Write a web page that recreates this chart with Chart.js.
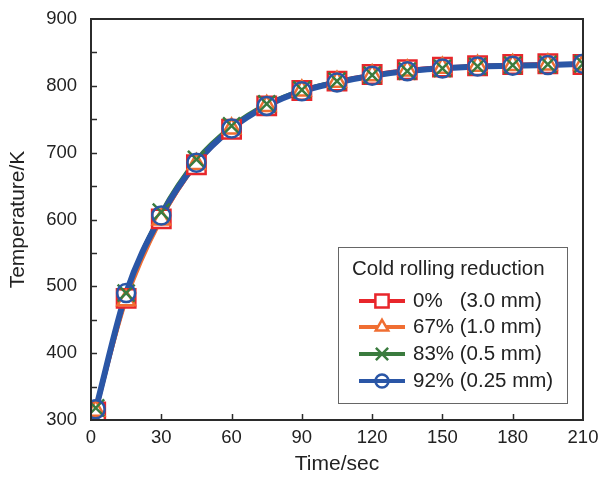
<!DOCTYPE html>
<html>
<head>
<meta charset="utf-8">
<script src="https://cdn.jsdelivr.net/npm/chart.js@4/dist/chart.umd.min.js"></script>
<style>
html, body { margin: 0; padding: 0; background: #fff; }
#wrap { width: 600px; height: 478px; }
</style>
</head>
<body>
<div id="wrap"><canvas id="chart" width="600" height="478"></canvas></div>
<script>
// Data
const times = [2, 15, 30, 45, 60, 75, 90, 105, 120, 135, 150, 165, 180, 195, 210];
const temp_0 = [312, 482, 601, 682, 735, 770, 793, 807, 817, 824, 828, 830, 832, 833, 832];
const temp_67 = [314, 479, 600, 683, 736, 770, 793, 806, 816, 823, 827, 830, 831, 832, 832];
const temp_83 = [318, 490, 611, 690, 740, 773, 794, 807, 816, 822, 826, 829, 831, 832, 833];
const temp_92 = [316, 490, 606, 685, 736, 770, 792, 805, 815, 822, 826, 829, 830, 831, 833];

const series_pct = ['0%', '67%', '83%', '92%'];
const series_mm = ['(3.0 mm)', '(1.0 mm)', '(0.5 mm)', '(0.25 mm)'];
const legend_title = 'Cold rolling reduction';
const x_ticks = [0, 30, 60, 90, 120, 150, 180, 210];

const colors = ['#e8262b', '#f06e32', '#3a7b3e', '#2a56a6'];
const styles = [
    {pointStyle: 'rect', radius: 13, fill: '#ffffff'},
    {pointStyle: 'triangle', radius: 10, fill: '#ffffff'},
    {pointStyle: 'crossRot', radius: 12, fill: 'rgba(0,0,0,0)'},
    {pointStyle: 'circle', radius: 9, fill: 'rgba(0,0,0,0)'}
];
const all_series = [temp_0, temp_67, temp_83, temp_92];
const FONT = '"Liberation Sans", Arial, Helvetica, sans-serif';

function toPoints(values){
    return times.map((t, i) => ({x: t, y: values[i]}));
}

// lines first (bottom), markers on top of all lines
let datasets = [];
all_series.forEach(function(values, i){
    datasets.push({
        data: toPoints(values),
        showLine: true,
        borderColor: colors[i],
        borderWidth: i == 3 ? 6 : 3.5,
        pointRadius: 0,
        fill: false,
        cubicInterpolationMode: 'monotone',
        order: 20 - i
    });
});
all_series.forEach(function(values, i){
    datasets.push({
        data: toPoints(values),
        showLine: false,
        borderColor: colors[i],
        backgroundColor: colors[i],
        pointStyle: styles[i].pointStyle,
        pointRadius: styles[i].radius,
        pointBorderWidth: 2.5,
        pointBorderColor: colors[i],
        pointBackgroundColor: styles[i].fill,
        order: 10 - i
    });
});

// frame + inner ticks + legend box
const framePlugin = {
    id: 'frame',
    afterDatasetsDraw(chart){
        const ctx = chart.ctx;
        const area = chart.chartArea;
        const xs = chart.scales.x, ys = chart.scales.y;
        ctx.save();
        ctx.strokeStyle = '#2b2b2b';
        ctx.lineWidth = 1.5;
        for (let v = 350; v < 900; v += 50){
            let py = Math.round(ys.getPixelForValue(v)) + 0.5;
            ctx.beginPath();
            ctx.moveTo(area.left, py);
            ctx.lineTo(area.left + 6, py);
            ctx.stroke();
        }
        for (let v = 30; v < 210; v += 30){
            let px = Math.round(xs.getPixelForValue(v)) + 0.5;
            ctx.beginPath();
            ctx.moveTo(px, area.bottom);
            ctx.lineTo(px, area.bottom - 6);
            ctx.stroke();
        }
        ctx.lineWidth = 2;
        ctx.strokeRect(area.left, area.top, area.right - area.left, area.bottom - area.top);

        // legend
        const bx = 338, by = 247, bw = 229, bh = 156;
        ctx.fillStyle = '#ffffff';
        ctx.fillRect(bx, by, bw, bh);
        ctx.strokeStyle = '#666666';
        ctx.lineWidth = 1;
        ctx.strokeRect(bx + 0.5, by + 0.5, bw, bh);
        ctx.fillStyle = '#222222';
        ctx.font = '20.5px ' + FONT;
        ctx.textBaseline = 'middle';
        ctx.textAlign = 'left';
        ctx.fillText(legend_title, 352, 269);
        const rows = [301, 327, 354, 381];
        const mm_x = 413 + ctx.measureText('67% ').width;
        rows.forEach(function(ry, i){
            ctx.strokeStyle = colors[i];
            ctx.lineWidth = 4;
            ctx.beginPath();
            ctx.moveTo(359, ry);
            ctx.lineTo(405, ry);
            ctx.stroke();
            ctx.fillStyle = styles[i].fill;
            ctx.lineWidth = 2.5;
            Chart.helpers.drawPoint(ctx, {
                pointStyle: styles[i].pointStyle,
                radius: styles[i].radius * 0.72,
                borderWidth: 2.5,
                rotation: 0
            }, 382, ry);
            ctx.fillStyle = '#222222';
            ctx.fillText(series_pct[i], 413, ry);
            ctx.fillText(series_mm[i], mm_x, ry);
        });
        ctx.restore();
    }
};

var ctx = document.getElementById('chart').getContext('2d');
var chart = new Chart(ctx, {
    type: 'scatter',
    data: {datasets: datasets},
    options: {
        responsive: false,
        animation: false,
        layout: {padding: {left: 0, top: 19, right: 17, bottom: 0}},
        plugins: {
            legend: {display: false},
            tooltip: {enabled: false}
        },
        scales: {
            x: {
                type: 'linear',
                min: 0,
                max: 210,
                afterBuildTicks: function(scale){
                    scale.ticks = x_ticks.map(v => ({value: v}));
                },
                afterFit: function(scale){
                    scale.height = 58;
                    scale.paddingLeft = 0;
                    scale.paddingRight = 0;
                },
                grid: {display: false, drawTicks: false},
                border: {display: false},
                ticks: {
                    padding: 7,
                    color: '#222',
                    font: {family: FONT, size: 18.5},
                    maxRotation: 0
                },
                title: {
                    display: true,
                    text: 'Time/sec',
                    color: '#222',
                    font: {family: FONT, size: 21},
                    padding: {top: 0, bottom: 1}
                }
            },
            y: {
                min: 300,
                max: 900,
                afterFit: function(scale){
                    scale.width = 91;
                    scale.paddingTop = 0;
                    scale.paddingBottom = 0;
                },
                grid: {display: false, drawTicks: false},
                border: {display: false},
                ticks: {
                    stepSize: 100,
                    padding: 14,
                    color: '#222',
                    font: {family: FONT, size: 18.5}
                },
                title: {
                    display: true,
                    text: 'Temperature/K',
                    color: '#222',
                    font: {family: FONT, size: 21},
                    padding: {top: 6, bottom: 0}
                }
            }
        }
    },
    plugins: [framePlugin]
});
</script>
</body>
</html>
